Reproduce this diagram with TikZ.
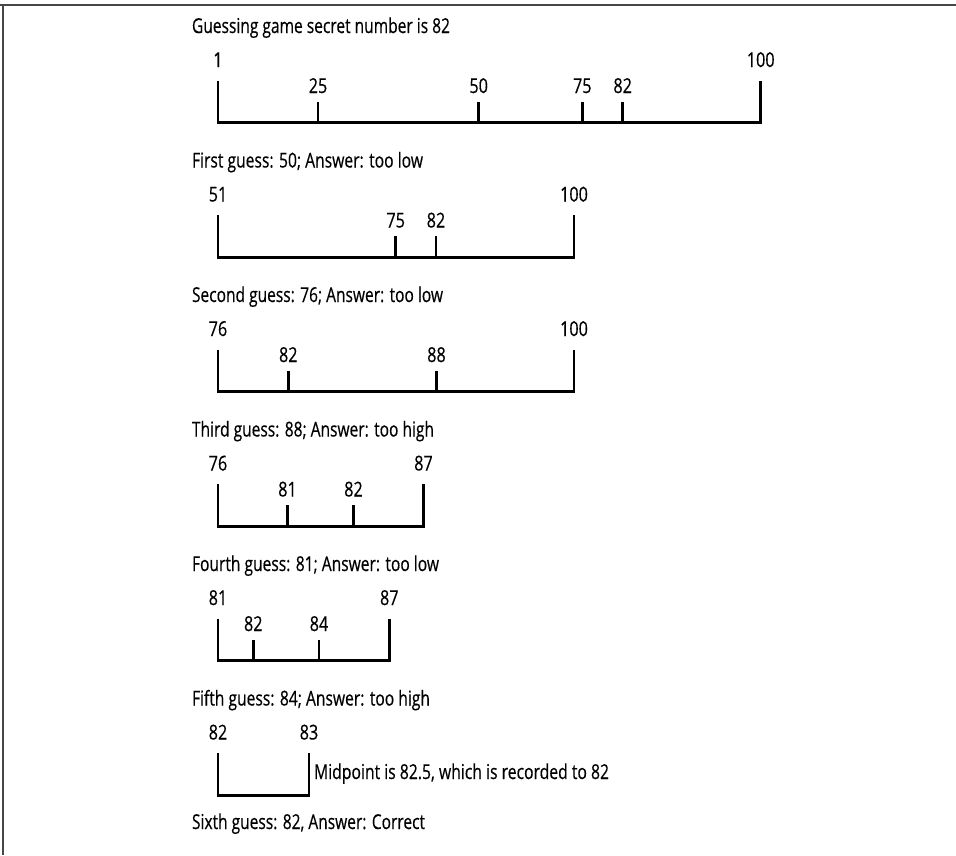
\documentclass[tikz,border=0pt]{standalone}
\usepackage{graphicx}
\usepackage{fontspec}
\setmainfont{Open Sans}[FakeStretch=0.79,FakeBold=0.4]
\newlength\fitlen
\newcommand\fitw[2]{\settowidth\fitlen{#2}\pgfmathsetmacro\fitfac{#1/\fitlen}\scalebox{\fitfac}[1]{#2}}
\begin{document}
\begin{tikzpicture}[x=1pt,y=-1pt,
  txt/.style={inner sep=0pt,outer sep=0pt,font=\fontsize{20.5}{24}\selectfont},
  axisline/.style={line width=2.7pt,line join=miter,line cap=butt},
  framel/.style={line width=1.6pt,draw=black!72}]
\useasboundingbox (0,0) rectangle (956,855);
% frame
\coordinate (f0) at (0,5);
\coordinate (f1) at (956,5);
\coordinate (f2) at (3,5);
\coordinate (f3) at (3,855);
\draw[framel] (f0) -- (f1);
\draw[framel] (f2) -- (f3);
% titles
\node[txt,anchor=base west] (h0) at (192,33) {\fitw{258}{Guessing game secret number is 82}};
\node[txt,anchor=base west] (h1) at (192,167.5) {\fitw{231}{First guess: 50; Answer: too low}};
\node[txt,anchor=base west] (h2) at (192,302) {\fitw{251}{Second guess: 76; Answer: too low}};
\node[txt,anchor=base west] (h3) at (192,436.5) {\fitw{242}{Third guess: 88; Answer: too high}};
\node[txt,anchor=base west] (h4) at (192,571) {\fitw{247}{Fourth guess: 81; Answer: too low}};
\node[txt,anchor=base west] (h5) at (192,705.5) {\fitw{238}{Fifth guess: 84; Answer: too high}};
\node[txt,anchor=base west] (h6) at (192,829) {\fitw{233}{Sixth guess: 82, Answer: Correct}};
% brackets with end labels
\foreach \r/\xa/\la/\xb/\lb in {0/218/1/760.7/100, 1/218/51/574/100, 2/218/76/574/100,
  3/218/76/423.5/87, 4/218/81/389.3/87, 5/218/82/309/83} {
  \pgfmathsetmacro\Y{\r*134.5}
  \coordinate (tl\r) at (\xa,80.7+\Y);
  \coordinate (bl\r) at (\xa,122.7+\Y);
  \coordinate (br\r) at (\xb,122.7+\Y);
  \coordinate (tr\r) at (\xb,80.7+\Y);
  \draw[axisline] (tl\r) -- (bl\r) -- (br\r) -- (tr\r);
  \node[txt,anchor=base] (L\r) at (\xa,67+\Y) {\la};
  \node[txt,anchor=base] (R\r) at (\xb,67+\Y) {\lb};
}
% inner ticks
\foreach \r/\x/\t in {0/318/25, 0/478.7/50, 0/582.3/75, 0/622.7/82,
  1/395.7/75, 1/436/82, 2/288.3/82, 2/436.5/88,
  3/287.5/81, 3/353.5/82, 4/253.3/82, 4/319/84} {
  \pgfmathsetmacro\Y{\r*134.5}
  \coordinate (a\r-\t) at (\x,122.7+\Y);
  \coordinate (s\r-\t) at (\x,101.7+\Y);
  \draw[axisline] (a\r-\t) -- (s\r-\t);
  \node[txt,anchor=base] (n\r-\t) at (\x,93+\Y) {\t};
}
\node[txt,anchor=base west] (mid) at (314,779) {\fitw{295}{Midpoint is 82.5, which is recorded to 82}};
\end{tikzpicture}
\end{document}
